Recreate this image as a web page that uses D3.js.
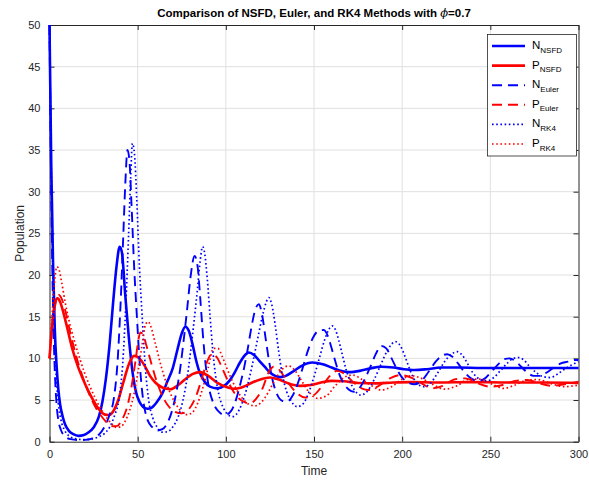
<!DOCTYPE html>
<html>
<head>
<meta charset="utf-8">
<script src="https://cdn.jsdelivr.net/npm/d3@7/dist/d3.min.js"></script>
<style>
  html, body { margin: 0; padding: 0; background: #fff; }
  svg { display: block; font-family: "Liberation Sans", Arial, Helvetica, sans-serif; }
</style>
</head>
<body>
<svg id="chart" width="589" height="483"></svg>
<script>
// ---------- data ----------
const xTicks = [0, 50, 100, 150, 200, 250, 300];
const yTicks = [0, 5, 10, 15, 20, 25, 30, 35, 40, 45, 50];

const nNSFD = [[0,50],[1,33],[1.5,27.5],[2,21.5],[3,13.5],[4,9.2],[5,6.3],[6,4.5],[7.5,3.0],[9,2.0],[11,1.3],[13.5,0.9],[16.5,0.7],[19.5,0.8],[22,1.1],[25,1.7],[28,3.0],[30,4.8],[32,7.6],[34,11.5],[36,16.5],[38,21],[39.8,23.4],[41,22.8],[43,17.5],[45,12.5],[47,8.5],[49,6.0],[51,4.8],[53,4.2],[55.5,3.95],[58,4.1],[61,4.8],[64,5.8],[67,7.3],[70,8.9],[72.5,11],[75,13],[77,13.8],[79,13.3],[81,11.8],[83,9.9],[85,8.4],[88,7.2],[91,6.6],[95,6.4],[99,6.7],[102,7.3],[105,8.3],[108,9.5],[110.5,10.3],[113,10.7],[116,10.4],[119,9.7],[122,9.0],[125,8.3],[128,7.9],[131,7.75],[134,7.9],[138,8.4],[143,9.1],[149,9.5],[155,9.3],[160,8.9],[165,8.5],[170,8.35],[176,8.5],[182,8.8],[188,9.0],[195,8.9],[201,8.7],[207,8.6],[214,8.7],[222,8.9],[232,8.9],[245,8.85],[260,8.85],[280,8.85],[300,8.85]];

const pNSFD = [[0,10],[1,12.8],[2,15.0],[3,16.6],[4.5,17.2],[6,16.8],[8,15.4],[10,13.7],[13,11.1],[16,9.1],[19,7.5],[22,6.1],[25,4.9],[28,3.9],[31,3.3],[33.5,3.2],[36,3.6],[39,5.0],[42,7.2],[45,9.3],[48,10.3],[51,10.0],[54,9.1],[57,7.9],[60,7.1],[64,6.5],[68.5,6.3],[73,6.8],[77,7.5],[81,8.1],[85.5,8.35],[90,7.9],[95,7.1],[100,6.6],[105,6.35],[110,6.6],[115,7.1],[120,7.5],[125,7.7],[130,7.45],[136,6.95],[142,6.7],[148,6.8],[154,7.1],[160,7.3],[167,7.25],[175,7.05],[185,7.0],[195,7.1],[205,7.15],[220,7.1],[240,7.15],[260,7.1],[280,7.1],[300,7.05]];

const nEuler = [[0,50],[1,30],[2,16],[3,8.5],[4,4.5],[5,2.6],[6.5,1.4],[8.5,0.7],[12,0.3],[16,0.2],[20,0.22],[24,0.38],[28,0.85],[31,1.7],[34,3.2],[36.5,5.2],[38.5,9.3],[40.3,16.5],[41.8,24.5],[43,31],[44.2,35],[45.3,33.8],[46.5,28.5],[48,21],[49.7,14.5],[51.3,9],[53,5.2],[55,3.0],[58,1.8],[61,1.35],[64,1.5],[67,2.3],[70,4.1],[72,6],[74,8.6],[76,12],[78,15.8],[80,19.8],[82.3,22.3],[84,21],[85.5,17.2],[87,12.8],[88.5,9.3],[90.5,6.4],[93,4.6],[96,3.6],[99.5,3.2],[103,3.7],[106,5.2],[108.3,7.0],[110.3,8.8],[112.3,11],[114.5,13.7],[116.5,15.7],[118.7,16.5],[120.5,15.3],[122.5,12.5],[124.5,9.7],[126.5,7.4],[129,5.7],[132,4.9],[134.5,4.8],[137.5,5.4],[140.5,6.8],[143.5,8.8],[146.5,10.9],[149.5,12.5],[152.5,13.3],[155.5,13.4],[158,12.6],[160,11.2],[162,9.7],[164,8.3],[166.5,7.1],[169.5,6.3],[172.6,6.0],[176,6.5],[179,7.6],[182,9.0],[185,10.5],[188,11.5],[191,11.2],[194,10],[197,8.7],[200,7.7],[203.5,7.1],[207,6.9],[211,7.3],[215,8.4],[219,9.6],[222.5,10.3],[225.5,10.5],[228.5,10.2],[232,9.3],[235.5,8.3],[239,7.6],[243,7.3],[247,7.6],[251,8.5],[255,9.4],[258,9.9],[261,10.0],[264,9.7],[267.5,9.0],[271,8.3],[274.5,7.9],[278,7.9],[282,8.3],[286,8.9],[290,9.4],[294,9.6],[297,9.8],[300,9.8]];

const pEuler = [[0,10],[1,12.5],[2,14.6],[3,16.1],[4,17.1],[5.3,17.6],[7,17.1],[9,15.7],[12,12.9],[15,10.4],[18,8.3],[21,6.5],[24,5.0],[27,3.8],[30,2.9],[33,2.2],[36,1.85],[38.5,1.9],[41,2.6],[43.5,3.8],[46,6.0],[48.5,9.3],[50,11.6],[51.5,13.1],[53,12.9],[55,11.5],[58,9.2],[61,7.1],[64,5.5],[67,4.4],[71,3.6],[75,3.4],[79,3.9],[83,5.4],[86,7.3],[89,9.4],[92,10.5],[95,10.1],[98,8.8],[102,6.9],[106,5.5],[110,4.8],[113.5,4.6],[117,5.1],[121,6.5],[124,8.2],[127,9.0],[130,8.7],[134,7.5],[139,6.1],[145,5.3],[150,5.6],[155,6.8],[159,7.9],[163,8.5],[167,8.2],[172,7.2],[177,6.4],[181,6.2],[186,6.6],[193,7.6],[199,8.0],[205,7.7],[211,7.0],[217,6.4],[223,6.7],[230,7.5],[236,7.6],[243,7.0],[250,6.6],[257,6.8],[264,7.3],[271,7.4],[278,7.0],[285,6.7],[292,6.9],[300,7.2]];

const nRK4 = [[0,50],[1,33],[2,20],[3,12],[4,7.2],[5,4.6],[6.5,2.6],[8.5,1.4],[11,0.7],[15,0.35],[19,0.25],[24,0.33],[28,0.6],[31,0.95],[34,1.7],[37,3.2],[39.5,5.2],[41.5,9.3],[43.3,16.5],[44.8,24.5],[46,31.5],[47,35.8],[48.2,34.5],[49.5,29],[51,21],[52.7,14.5],[54.4,8.8],[56.3,4.9],[58.5,2.9],[61,1.75],[64,1.15],[67,1.2],[70,1.8],[73,3.0],[75.5,4.8],[78,7.6],[80,10.8],[82,14.5],[84,18.5],[85.5,21.8],[86.8,23.4],[88,22.6],[89.5,19.5],[91,15.2],[92.5,11.2],[94,8.2],[96,5.7],[98.5,4.1],[101,3.3],[103.6,3.0],[106,3.3],[109,4.5],[112,6.5],[115,9.2],[118,12.3],[121,15.3],[123,16.8],[124.4,17.3],[126,16.5],[128,14],[130,10.8],[132,8.1],[134.5,6],[137,4.9],[140.5,4.2],[144,4.6],[147,5.9],[150,7.8],[153,10],[156,12.2],[158.5,13.5],[160.3,13.9],[162,13.5],[164,12.2],[166,10.5],[168,8.8],[170.5,7.2],[173,6.2],[176.4,5.6],[180,6.0],[184,7.4],[188,9.3],[192,11.1],[196.2,12.0],[199,11.5],[202,10],[205,8.3],[208,7.1],[212.3,6.6],[216,7.0],[220,8.2],[224,9.6],[228,10.5],[231.2,10.8],[234,10.4],[237,9.4],[240,8.3],[244,7.5],[248.2,7.3],[252,7.7],[256,8.6],[260,9.5],[263,10],[266.2,10.1],[269,9.8],[272,9.1],[276,8.3],[280,7.8],[284.1,7.7],[288,8.1],[292,8.7],[296,9.2],[300,9.6]];

const pRK4 = [[0,10],[1,13.5],[2,16.8],[3,19.5],[4.2,21],[5.5,20.6],[7,19],[9,16.6],[11,14.6],[14,12.2],[17,10.1],[20,8.2],[23,6.6],[26,5.2],[29,4.0],[32,3.0],[35,2.2],[38,1.7],[40.5,1.8],[43,2.5],[45.5,3.8],[48,5.8],[50.5,8.8],[52.5,11.6],[54.5,14.1],[56,14.4],[57.5,13.8],[60,11.8],[63,9.3],[66,7.2],[69,5.6],[72,4.4],[75,3.6],[78,3.25],[81,3.5],[84,4.6],[87,6.5],[90,8.9],[93,11.2],[95.5,11.2],[98,10.2],[101,8.6],[105,6.7],[109,5.3],[113,4.5],[116.5,4.3],[120,4.7],[124,5.9],[128,7.5],[132,8.7],[135.5,9.1],[139,8.6],[143,7.3],[147,6.0],[152,5.2],[157,5.5],[162,6.7],[167,7.7],[172,8.0],[177,7.5],[182,6.8],[188,6.2],[194,6.6],[200,7.5],[205,7.9],[211,7.6],[217,6.9],[224,6.3],[231,6.7],[238,7.5],[244,7.5],[251,6.9],[257.5,6.4],[264,6.8],[271,7.4],[277,7.45],[284,7.0],[292,6.6],[300,6.8]];

const seriesNames = ["N","P","N","P","N","P"];
const seriesSubs  = ["NSFD","NSFD","Euler","Euler","RK4","RK4"];
const seriesData  = [nNSFD, pNSFD, nEuler, pEuler, nRK4, pRK4];

// ---------- styles ----------
const styles = [
  {color:"#0000ff", width:2.6, dash:null},
  {color:"#ff0000", width:2.6, dash:null},
  {color:"#0000ff", width:1.9, dash:"10,6"},
  {color:"#ff0000", width:1.9, dash:"10,6"},
  {color:"#0000ff", width:1.7, dash:"1.6,2.6"},
  {color:"#ff0000", width:1.7, dash:"1.6,2.6"}
];

const svg = d3.select("#chart");
const L = 49.5, R = 578.5, T = 25, B = 441.7;
const x = d3.scaleLinear().domain([0, 300]).range([L, R]);
const y = d3.scaleLinear().domain([0, 50]).range([B, T]);
const axisColor = "#262626";

// grid
const grid = svg.append("g");
grid.selectAll("line.gx").data(xTicks.slice(1, -1)).join("line")
  .attr("x1", d => x(d)).attr("x2", d => x(d)).attr("y1", T).attr("y2", B)
  .attr("stroke", "#e0e0e0").attr("stroke-width", 1);
grid.selectAll("line.gy").data(yTicks.slice(1, -1)).join("line")
  .attr("x1", L).attr("x2", R).attr("y1", d => y(d)).attr("y2", d => y(d))
  .attr("stroke", "#e0e0e0").attr("stroke-width", 1);

// axes (inward ticks on all sides)
const tl = 5;
svg.append("g").attr("transform", `translate(0,${B})`)
  .call(d3.axisBottom(x).tickValues(xTicks).tickSizeInner(-tl).tickSizeOuter(0).tickPadding(9))
  .call(g => { g.select(".domain").attr("stroke", axisColor);
               g.selectAll(".tick line").attr("stroke", axisColor);
               g.selectAll("text").attr("fill", axisColor).attr("font-size", 11).attr("font-family", "Liberation Sans, Arial, sans-serif"); });
svg.append("g").attr("transform", `translate(0,${T})`)
  .call(d3.axisTop(x).tickValues(xTicks).tickSizeInner(-tl).tickSizeOuter(0).tickFormat(""))
  .call(g => { g.select(".domain").attr("stroke", axisColor);
               g.selectAll(".tick line").attr("stroke", axisColor); });
svg.append("g").attr("transform", `translate(${L},0)`)
  .call(d3.axisLeft(y).tickValues(yTicks).tickSizeInner(-tl).tickSizeOuter(0).tickPadding(9))
  .call(g => { g.select(".domain").attr("stroke", axisColor);
               g.selectAll(".tick line").attr("stroke", axisColor);
               g.selectAll("text").attr("fill", axisColor).attr("font-size", 11).attr("font-family", "Liberation Sans, Arial, sans-serif"); });
svg.append("g").attr("transform", `translate(${R},0)`)
  .call(d3.axisRight(y).tickValues(yTicks).tickSizeInner(-tl).tickSizeOuter(0).tickFormat(""))
  .call(g => { g.select(".domain").attr("stroke", axisColor);
               g.selectAll(".tick line").attr("stroke", axisColor); });

// clip
svg.append("defs").append("clipPath").attr("id", "clip")
  .append("rect").attr("x", L - 1.5).attr("y", T - 1.5).attr("width", R - L + 3).attr("height", B - T + 3);

// lines
const line = d3.line().x(d => x(d[0])).y(d => y(d[1])).curve(d3.curveMonotoneX);
const plot = svg.append("g").attr("clip-path", "url(#clip)");
seriesData.forEach((data, i) => {
  const s = styles[i];
  plot.append("path").datum(data)
    .attr("d", line)
    .attr("fill", "none")
    .attr("stroke", s.color)
    .attr("stroke-width", s.width)
    .attr("stroke-linejoin", "round")
    .attr("stroke-dasharray", s.dash);
});

// title
const title = svg.append("text").attr("x", (L + R) / 2).attr("y", 17)
  .attr("text-anchor", "middle").attr("font-size", 11.5).attr("font-weight", "bold").attr("fill", "#000");
title.append("tspan").text("Comparison of NSFD, Euler, and RK4 Methods with ");
title.append("tspan").attr("font-style", "italic").attr("font-weight", "normal").attr("font-family", "DejaVu Serif, serif").text("ϕ");
title.append("tspan").text("=0.7");

// axis labels
svg.append("text").attr("x", (L + R) / 2).attr("y", 475).attr("text-anchor", "middle")
  .attr("font-size", 12).attr("fill", axisColor).text("Time");
svg.append("text").attr("transform", `translate(24,${(T + B) / 2}) rotate(-90)`).attr("text-anchor", "middle")
  .attr("font-size", 12).attr("fill", axisColor).text("Population");

// legend
const lg = svg.append("g");
lg.append("rect").attr("x", 487.5).attr("y", 34.5).attr("width", 89).attr("height", 121.5)
  .attr("fill", "#fff").attr("stroke", axisColor).attr("stroke-width", 0.8);
seriesData.forEach((d, i) => {
  const s = styles[i];
  const yy = 46 + i * 19.6;
  lg.append("line").attr("x1", 492).attr("x2", 525).attr("y1", yy).attr("y2", yy)
    .attr("stroke", s.color).attr("stroke-width", s.width).attr("stroke-dasharray", s.dash);
  const t = lg.append("text").attr("x", 532).attr("y", yy + 3).attr("fill", "#000").attr("font-size", 11.5);
  t.append("tspan").text(seriesNames[i]);
  t.append("tspan").attr("font-size", 8).attr("dy", 3.5).text(seriesSubs[i]);
});
</script>
</body>
</html>
